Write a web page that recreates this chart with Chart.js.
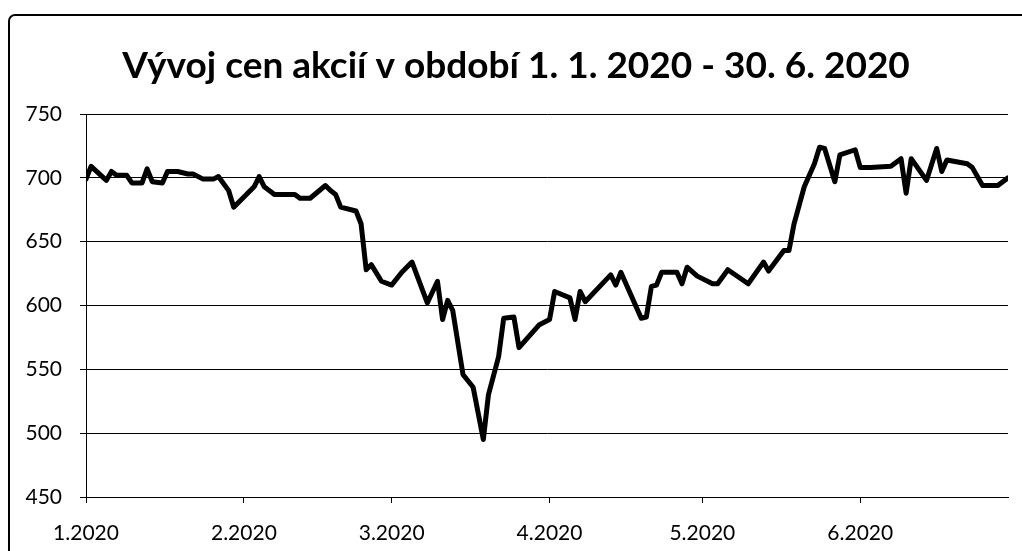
<!DOCTYPE html>
<html lang="cs">
<head>
<meta charset="utf-8">
<title>Vývoj cen akcií</title>
<script src="https://cdn.jsdelivr.net/npm/chart.js@4.4.1/dist/chart.umd.min.js"></script>
<style>
    html, body { margin: 0; padding: 0; background: #fff; }
    #wrap { position: relative; width: 1022px; height: 551px; }
</style>
</head>
<body>
<div id="wrap"><canvas id="priceChart" width="1022" height="551"></canvas></div>
<script>
    // -----------------------------
    // DATA (day 0 = 1. 1. 2020)
    // -----------------------------
    const monthStarts = [0, 31, 60, 91, 121, 152];
    const monthLabels = ["1.2020", "2.2020", "3.2020", "4.2020", "5.2020", "6.2020"];

    const tradeDays = [
        0, 1, 4, 5, 6, 8, 9, 11, 12, 13, 15, 16, 18, 20, 21, 23, 25, 26, 28, 29,
        31, 33, 34, 35, 37, 41, 42, 44, 47, 48, 49, 50, 53, 54, 55, 56, 58, 60, 62, 64,
        67, 69, 70, 71, 72, 74, 76, 78, 79, 81, 82, 84, 85, 89, 91, 92, 95, 96, 97, 98,
        103, 104, 105, 109, 110, 111, 112, 113, 116, 117, 118, 120, 123, 124, 126, 130, 133, 134, 137, 138,
        139, 141, 143, 144, 145, 147, 148, 151, 152, 154, 158, 160, 161, 162, 165, 167, 168, 169, 173, 174,
        176, 179, 181
    ];
    const prices = [
        699, 709, 698, 705, 702, 702, 696, 696, 707, 697, 696, 705, 705, 703, 703, 699, 699, 701, 690, 677,
        685, 693, 701, 693, 687, 687, 684, 684, 694, 690, 687, 677, 674, 664, 628, 632, 619, 616, 626, 634,
        602, 619, 589, 604, 596, 546, 536, 495, 530, 560, 590, 591, 567, 585, 589, 611, 606, 589, 611, 603,
        624, 616, 626, 590, 591, 615, 616, 626, 626, 617, 630, 623, 617, 617, 628, 617, 634, 627, 643, 643,
        664, 693, 711, 724, 723, 697, 718, 722, 708, 708, 709, 715, 688, 715, 698, 723, 705, 714, 711, 708,
        694, 694, 700
    ];

    const yTicks = [450, 500, 550, 600, 650, 700, 750];

    // frame around the whole chart
    const framePlugin = {
        id: "frame",
        beforeDraw(chart) {
            const c = chart.ctx;
            c.save();
            c.strokeStyle = "#000";
            c.lineWidth = 2;
            c.beginPath();
            c.roundRect(9, 15, 1100, 600, 6);
            c.stroke();
            c.restore();
        }
    };

    const ctx = document.getElementById("priceChart").getContext("2d");
    new Chart(ctx, {
        type: "line",
        data: {
            datasets: [{
                data: tradeDays.map((d, i) => ({ x: d, y: prices[i] })),
                borderColor: "#000",
                borderWidth: 5,
                borderJoinStyle: "round",
                borderCapStyle: "round",
                pointRadius: 0,
                tension: 0,
                fill: false
            }]
        },
        options: {
            responsive: false,
            animation: false,
            layout: { padding: { top: 0, left: 24, right: 14, bottom: 0 } },
            plugins: {
                legend: { display: false },
                tooltip: { enabled: false },
                title: {
                    display: true,
                    text: "Vývoj cen akcií v období 1. 1. 2020 - 30. 6. 2020",
                    color: "#000",
                    font: { family: "Lato", size: 37, weight: "bold" },
                    padding: { top: 43.4, bottom: 26.2 }
                }
            },
            scales: {
                x: {
                    type: "linear",
                    min: 0,
                    max: 181,
                    afterBuildTicks: s => { s.ticks = monthStarts.map(v => ({ value: v })); },
                    afterFit: s => { s.height = 54; },
                    grid: { drawOnChartArea: false, drawTicks: true, tickLength: 6, color: "#000" },
                    border: { color: "#000", width: 1 },
                    ticks: {
                        color: "#000",
                        font: { family: "Lato", size: 21 },
                        padding: 18,
                        maxRotation: 0,
                        autoSkip: false,
                        callback: v => monthLabels[monthStarts.indexOf(v)]
                    }
                },
                y: {
                    min: 450,
                    max: 750,
                    afterBuildTicks: s => { s.ticks = yTicks.map(v => ({ value: v })); },
                    afterFit: s => { s.width = 62; },
                    grid: { color: "#000", lineWidth: 1, tickLength: 6 },
                    border: { color: "#000", width: 1 },
                    ticks: {
                        color: "#000",
                        font: { family: "Lato", size: 21 },
                        padding: 18
                    }
                }
            }
        },
        plugins: [framePlugin]
    });
</script>
</body>
</html>
